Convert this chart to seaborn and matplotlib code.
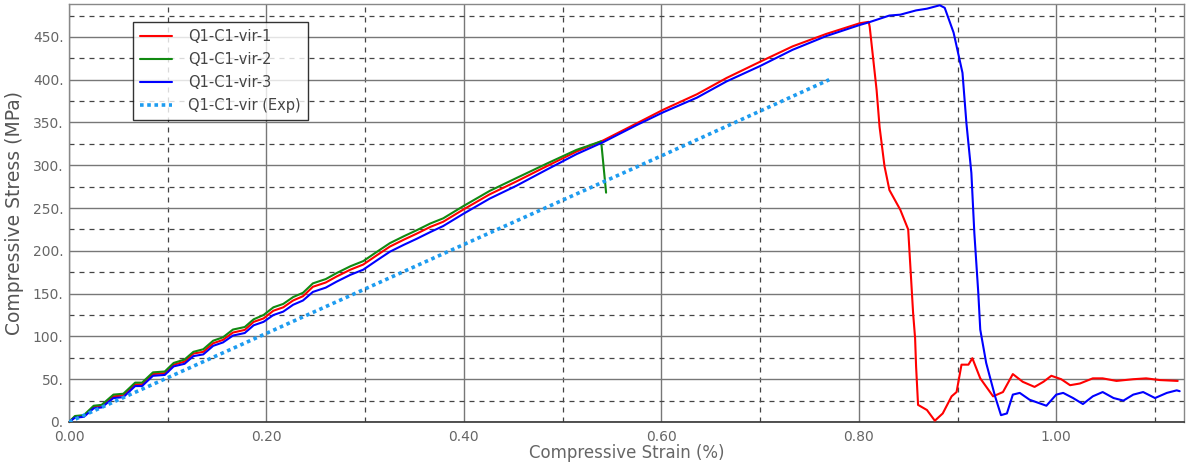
import numpy as np
import pandas as pd
import matplotlib
matplotlib.use("Agg")
import matplotlib.pyplot as plt
import seaborn as sns
from matplotlib.ticker import MultipleLocator, FuncFormatter

# strain (%) points along the shared loading branch
strain_load = [0, 0.006, 0.015, 0.025, 0.033, 0.045, 0.055, 0.067, 0.074, 0.085,
               0.097, 0.106, 0.117, 0.126, 0.136, 0.146, 0.156, 0.166, 0.178, 0.187,
               0.197, 0.207, 0.217, 0.227, 0.237, 0.247, 0.260, 0.271, 0.285, 0.298,
               0.312, 0.325, 0.339, 0.352, 0.366, 0.379, 0.399, 0.426, 0.453, 0.484,
               0.514, 0.541, 0.575, 0.602, 0.636, 0.666, 0.700, 0.733, 0.767, 0.801,
               0.810]

# Q1-C1-vir-1 (red)
stress_red_load = [0, 6, 7, 18, 19, 30, 31, 44, 44, 56,
                   57, 67, 70.5, 80, 82, 92, 96, 104.5, 107.6, 117,
                   121, 130, 134, 142, 147, 158, 163, 170, 178, 184,
                   195, 205, 213, 220, 228, 234, 248, 266, 281, 299,
                   316, 329, 349, 365, 383, 402, 421, 439, 453.5, 466,
                   467.6]
strain_red_post = [0.811, 0.818, 0.821, 0.826, 0.831, 0.842, 0.850, 0.855, 0.857, 0.858,
                   0.860, 0.869, 0.877, 0.885, 0.894, 0.899, 0.904, 0.911, 0.915, 0.923,
                   0.936, 0.946, 0.956, 0.966, 0.978, 0.987, 0.995, 1.005, 1.014, 1.024,
                   1.037, 1.047, 1.061, 1.078, 1.091, 1.105, 1.123]
stress_red_post = [462, 388, 345, 299, 271, 248, 225, 127, 98, 65,
                   20, 14, 1.5, 10, 30, 35, 67, 67, 74.5, 51,
                   30, 35, 56, 47, 41, 47, 54, 50, 43, 45,
                   51, 51, 48, 50, 51, 49, 48]

# Q1-C1-vir-2 (green)
strain_green = strain_load[:41] + [0.539, 0.544]
stress_green = [0, 7, 8, 19, 20, 32, 33, 46, 46, 58,
                59, 69, 73, 82, 85, 95, 99, 108, 111, 120,
                125, 134, 138, 146, 151, 162, 167, 174, 182, 188,
                199, 209, 217, 224, 232, 238, 252, 270, 285, 302,
                318, 328, 268]

# Q1-C1-vir-3 (blue)
stress_blue_load = [0, 5, 6, 16, 17, 28, 29, 42, 42, 54,
                    55, 65, 68, 77, 79, 89, 93, 101, 104, 113,
                    117, 125, 129, 137, 142, 152, 157, 164, 172, 178,
                    189, 199, 207, 214, 222, 229, 243, 261, 276, 295,
                    313, 327, 347, 362, 379, 398, 416, 435, 451, 464,
                    467]
strain_blue_post = [0.831, 0.842, 0.858, 0.869, 0.882, 0.887, 0.896, 0.905, 0.909, 0.914,
                    0.917, 0.921, 0.923, 0.929, 0.938, 0.944, 0.950, 0.956, 0.963, 0.973,
                    0.990, 1.000, 1.007, 1.017, 1.027, 1.037, 1.047, 1.058, 1.068, 1.078,
                    1.088, 1.100, 1.112, 1.122, 1.125]
stress_blue_post = [475, 476, 481, 483, 487, 484, 455, 408, 349, 291,
                    221, 151, 108, 69, 30, 8, 10, 32, 34, 26,
                    19, 32, 34, 28, 21, 30, 35, 28, 25, 32,
                    35, 28, 34, 37, 36]

# experiment (dotted)
strain_exp = [0, 0.193, 0.40, 0.60, 0.770]
stress_exp = [0, 100, 207.5, 311, 400]

labels = ["Q1-C1-vir-1", "Q1-C1-vir-2", "Q1-C1-vir-3", "Q1-C1-vir (Exp)"]
colors = ["#ff0000", "#118a11", "#0000ff", "#1e9cf0"]

sns.set_style("white")
plt.rcParams["font.family"] = ["DejaVu Sans"]

fig = plt.figure(figsize=(11.86, 4.68), dpi=100)
ax = fig.add_axes([0.0582, 0.0983, 0.9398, 0.8932])

curves = [
    (strain_load + strain_red_post, stress_red_load + stress_red_post),
    (strain_green, stress_green),
    (strain_load + strain_blue_post, stress_blue_load + stress_blue_post),
]
for (xs, ys), lab, col in zip(curves, labels[:3], colors[:3]):
    sns.lineplot(x=xs, y=ys, sort=False, estimator=None, color=col,
                 linewidth=1.5, label=lab, ax=ax, zorder=3)
sns.lineplot(x=strain_exp, y=stress_exp, sort=False, estimator=None, color=colors[3],
             linewidth=2.6, linestyle=(0, (1, 1)), label=labels[3], ax=ax, zorder=3)

ax.set_xlim(0, 1.129)
ax.set_ylim(0, 488.5)

ax.xaxis.set_major_locator(MultipleLocator(0.2))
ax.xaxis.set_minor_locator(MultipleLocator(0.1))
ax.yaxis.set_major_locator(MultipleLocator(50))
ax.yaxis.set_minor_locator(MultipleLocator(25))
ax.xaxis.set_major_formatter(FuncFormatter(lambda v, p: "%.2f" % v))
ax.yaxis.set_major_formatter(FuncFormatter(lambda v, p: "%d." % round(v)))

ax.grid(which="major", color="#777777", linewidth=1.0, linestyle="-", zorder=0)
ax.grid(which="minor", color="#444444", linewidth=0.9, linestyle=(0, (4, 4)), zorder=0)
ax.set_axisbelow(True)

ax.tick_params(which="both", length=0)
ax.tick_params(axis="x", labelsize=10, colors="#666666", pad=6)
ax.tick_params(axis="y", labelsize=10, colors="#666666", pad=4)

ax.set_xlabel("Compressive Strain (%)", fontsize=12, color="#666666", labelpad=0)
ax.set_ylabel("Compressive Stress (MPa)", fontsize=13.5, color="#555555", labelpad=6)

for side in ["left", "top", "right"]:
    ax.spines[side].set_color("#888888")
    ax.spines[side].set_linewidth(1.0)
ax.spines["bottom"].set_color("#333333")
ax.spines["bottom"].set_linewidth(1.2)

leg = ax.legend(loc="upper left", bbox_to_anchor=(0.057, 0.958), fontsize=10.5,
                frameon=True, fancybox=False, shadow=False, handlelength=2.2,
                handletextpad=1.1, borderpad=0.5, labelspacing=0.55, borderaxespad=0)
leg.get_frame().set_edgecolor("black")
leg.get_frame().set_linewidth(1.0)
for t in leg.get_texts():
    t.set_color("#444444")

fig.savefig("out.png", dpi=100)
